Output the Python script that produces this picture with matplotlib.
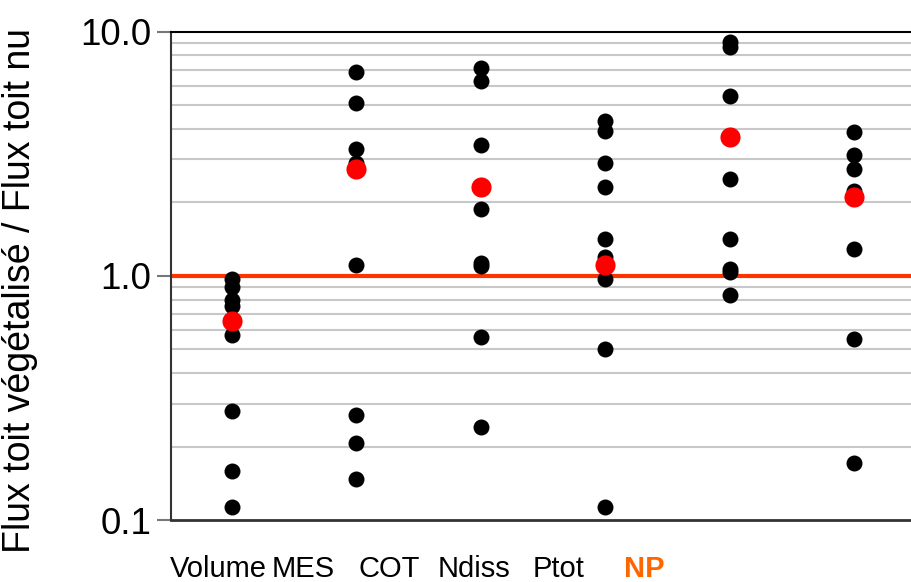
import matplotlib
matplotlib.use("Agg")
import matplotlib.pyplot as plt
from matplotlib.ticker import FixedLocator, NullFormatter, FixedFormatter

categories = ["Volume", "MES", "COT", "Ndiss", "Ptot", "NP"]

volume = [0.97, 0.90, 0.80, 0.75, 0.57, 0.280, 0.159, 0.1135]
mes = [6.81, 5.10, 3.31, 2.90, 1.11, 0.269, 0.207, 0.147]
cot = [7.10, 6.30, 3.44, 1.88, 1.13, 1.10, 0.564, 0.241]
ndiss = [4.29, 3.93, 2.91, 2.32, 1.42, 1.20, 0.969, 0.502, 0.1135]
ptot = [9.04, 8.65, 5.43, 2.50, 1.42, 1.07, 1.04, 0.836]
np_ = [3.87, 3.13, 2.75, 2.22, 1.29, 0.552, 0.171]
series = [volume, mes, cot, ndiss, ptot, np_]

central = [0.654, 2.75, 2.32, 1.11, 3.72, 2.11]

ytick_values = [0.1, 1.0, 10.0]
ytick_labels = ["0.1", "1.0", "10.0"]
reference_level = 1.0

fig = plt.figure(figsize=(9.11, 5.82), dpi=100)
W, H = 911, 582
ax = fig.add_axes([171 / W, (H - 520) / H, 740 / W, (520 - 31.7) / H])

ax.set_yscale("log")
ax.set_ylim(0.1, 10.0)
ax.set_xlim(-0.4875, 5.458)

# minor gridlines
minor = [m * 10.0 ** e for e in (-1, 0) for m in range(2, 10)]
for v in minor:
    ax.axhline(v, color="#c8c8c8", lw=1.5, zorder=1)
ax.axhline(reference_level, color="#ff3300", lw=3, zorder=2)

for i, vals in enumerate(series):
    ax.plot([i] * len(vals), vals, "o", color="black", ms=11.5, mec="none", zorder=3)
ax.plot(range(len(central)), central, "o", color="#ff0000", ms=14.5, mec="none", zorder=4)

ax.yaxis.set_major_locator(FixedLocator(ytick_values))
ax.yaxis.set_major_formatter(FixedFormatter(ytick_labels))
ax.yaxis.set_minor_locator(FixedLocator([]))
ax.yaxis.set_minor_formatter(NullFormatter())
ax.tick_params(axis="y", which="major", length=10, width=1.5, color="#777777",
               pad=4, labelsize=26.5)
for lab in ax.get_yticklabels():
    lab.set_family(["Liberation Sans", "DejaVu Sans"])

# category labels
label_start, label_step = -0.106, 0.684
ax.set_xticks([label_start + i * label_step for i in range(len(categories))])
ax.set_xticklabels(categories)
ax.tick_params(axis="x", length=0, pad=25, labelsize=21)
for i, lab in enumerate(ax.get_xticklabels()):
    lab.set_family(["Liberation Sans Narrow", "Liberation Sans", "DejaVu Sans"])
    if categories[i] == "NP":
        lab.set_color("#ff6600")
        lab.set_fontweight("bold")

ax.set_ylabel("Flux toit végétalisé / Flux toit nu", fontsize=27,
              family=["Liberation Sans", "DejaVu Sans"], labelpad=0)
ax.yaxis.set_label_coords(-0.180, 0.471)

ax.spines["right"].set_visible(False)
ax.spines["top"].set_color("black")
ax.spines["top"].set_linewidth(1.5)
ax.spines["left"].set_color("#333333")
ax.spines["left"].set_linewidth(1.5)
ax.spines["bottom"].set_color("#333333")
ax.spines["bottom"].set_linewidth(2)

fig.savefig("out.png", dpi=100)
